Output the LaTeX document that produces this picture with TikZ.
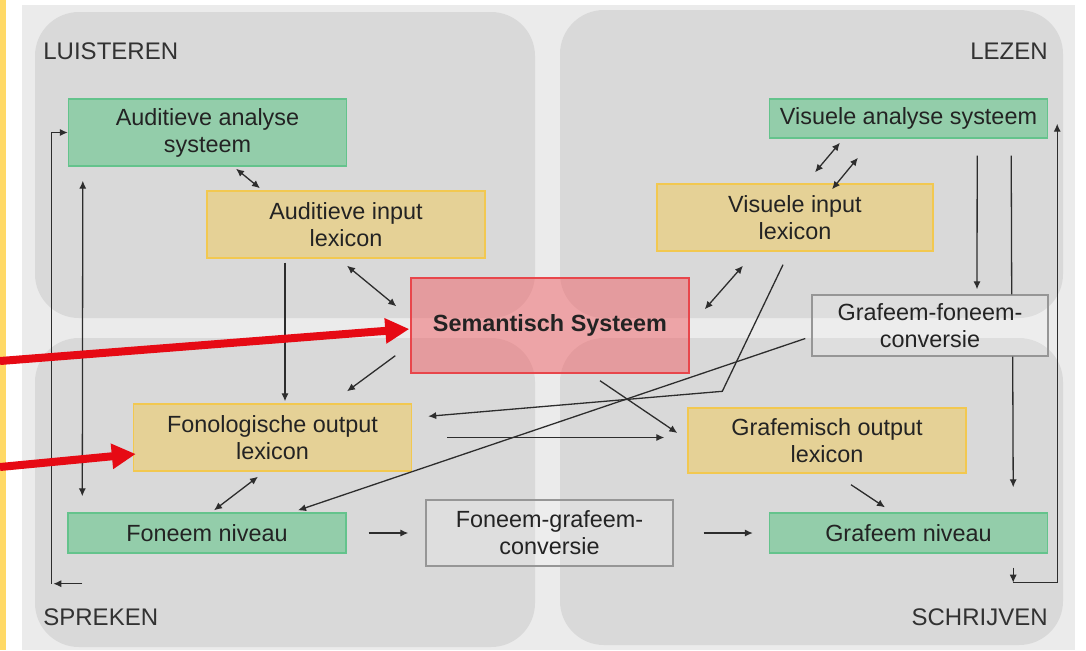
\documentclass[tikz,border=0pt]{standalone}
\usepackage{fontspec}
\setmainfont{Liberation Sans}
\definecolor{sidebar}{RGB}{255,217,102}
\definecolor{slidegray}{RGB}{235,235,235}
\definecolor{quadgray}{RGB}{217,217,217}
\definecolor{greenfill}{RGB}{147,205,170}
\definecolor{greenline}{RGB}{100,195,140}
\definecolor{yellowfill}{RGB}{229,209,150}
\definecolor{yellowline}{RGB}{242,200,80}
\definecolor{redfill}{RGB}{240,95,100}
\definecolor{redline}{RGB}{232,70,75}
\definecolor{convline}{RGB}{150,150,150}
\definecolor{linegray}{RGB}{45,45,45}
\definecolor{boxtext}{RGB}{35,35,35}
\definecolor{labeltext}{RGB}{50,50,50}
\definecolor{alertred}{RGB}{230,10,20}
\usetikzlibrary{arrows.meta, positioning, calc}

\begin{document}
\begin{tikzpicture}[
        x=0.5pt, y=-0.5pt,
        quad/.style={fill=quadgray, rounded corners=22pt},
        quadlabel/.style={font=\fontsize{12}{14}\selectfont, text=labeltext, inner sep=0pt},
        box/.style={rectangle, line width=0.7pt, minimum width=139pt, minimum height=33.5pt, align=center, inner sep=1pt, text=boxtext, font=\fontsize{11.7}{13.5}\selectfont},
        greenbox/.style={box, fill=greenfill, draw=greenline},
        yellowbox/.style={box, fill=yellowfill, draw=yellowline},
        semanticbox/.style={box, fill=redfill, fill opacity=0.5, text opacity=1, draw=redline, font=\fontsize{11.7}{13.5}\selectfont\bfseries},
        convbox/.style={box, fill=white, fill opacity=0.15, text opacity=1, draw=convline},
        arrow/.style={-{Latex[length=4pt,width=3.6pt]}, line width=0.65pt, draw=linegray},
        biarrow/.style={{Latex[length=4pt,width=3.6pt]}-{Latex[length=4pt,width=3.6pt]}, line width=0.65pt, draw=linegray},
        plainline/.style={line width=0.65pt, draw=linegray},
        redarrow/.style={-{Triangle[length=12pt,width=12pt]}, line width=4pt, draw=alertred}
    ]
        \useasboundingbox (0,0) rectangle (1086,650);
        % slide background and the four fields
        \fill[white] (0,0) rectangle (1086,650);
        \fill[sidebar] (0,0) rectangle (6,650);
        \fill[slidegray] (22,5) rectangle (1075,650);
        \fill[quad] (35,12) rectangle (535,318);
        \fill[quad] (560,10) rectangle (1063,318);
        \fill[quad] (35,338) rectangle (535,647);
        \fill[quad] (560,338) rectangle (1063,645);

        \node[quadlabel, anchor=west] (luisteren) at (43,51) {LUISTEREN};
        \node[quadlabel, anchor=east] (lezen) at (1048,51) {LEZEN};
        \node[quadlabel, anchor=west] (spreken) at (43,617) {SPREKEN};
        \node[quadlabel, anchor=east] (schrijven) at (1048,617) {SCHRIJVEN};

        % modules
        \node[greenbox] (aud) at (207.5,132.5) {Auditieve analyse\\systeem};
        \node[yellowbox] (audin) at (346,224.5) {Auditieve input\\lexicon};
        \node[semanticbox, minimum height=47.5pt] (sem) at (550,325.5) {Semantisch Systeem};
        \node[greenbox, minimum height=19.5pt] (vis) at (908.5,118.5) {Visuele analyse systeem};
        \node[yellowbox, minimum width=138pt] (visin) at (795,217.5) {Visuele input\\lexicon};
        \node[convbox, minimum width=118pt, minimum height=30.5pt] (gfc) at (930,325.5) {Grafeem-foneem-\\conversie};
        \node[yellowbox] (fonout) at (272.5,437.5) {Fonologische output\\lexicon};
        \node[yellowbox, minimum height=32.5pt] (grafout) at (827,440.5) {Grafemisch output\\lexicon};
        \node[greenbox, minimum height=20pt] (fon) at (207,533) {Foneem niveau};
        \node[convbox, minimum width=123.5pt, minimum height=33pt] (fgc) at (549.5,533) {Foneem-grafeem-\\conversie};
        \node[greenbox, minimum height=20pt] (graf) at (908.5,533) {Grafeem niveau};

        % loops at the sides
        \coordinate (lp1) at ($(fon.south west)+(15,30)$);
        \coordinate (lp2) at ($(fon.south west)+(-16,30)$);
        \coordinate (rp1) at ($(graf.south east)+(-35,14)$);
        \coordinate (rp2) at ($(graf.south east)+(-35,29)$);
        \draw[arrow] (lp1) -- ($(lp2)+(2,0)$);
        \draw[arrow] (lp2) |- (aud.west);
        \draw[arrow] (rp1) -- (rp2);
        \draw[arrow] (rp2) -| ($(vis.south east)+(9,-15)$);

        % connections
        \draw[biarrow] ($(aud.south west)+(15,14)$) -- ($(fon.north west)+(15,-16)$);
        \draw[biarrow] ($(aud.south)+(28.5,2)$) -- ($(audin.north)+(-86,-2)$);
        \draw[arrow] ($(audin.south)+(-61,4)$) -- ($(fonout.north)+(12.5,-2)$);
        \draw[biarrow] ($(audin.south)+(1,7)$) -- ($(sem.north west)+(-14,29)$);
        \draw[arrow] ($(sem.south west)+(-15,-18)$) -- ($(fonout.north)+(74.5,-12)$);
        \draw[biarrow] ($(vis.south)+(-68.5,4)$) -- ($(visin.north)+(20,-11)$);
        \draw[biarrow] ($(vis.south)+(-50.5,19)$) -- ($(visin.north)+(37,6)$);
        \draw[biarrow] ($(visin.south)+(-52,14)$) -- ($(sem.north east)+(15,32)$);
        \draw[arrow] ($(visin.south)+(-12,13)$) -- ($(grafout.north west)+(35,-16)$) -- ($(fonout.north east)+(16,13)$);
        \draw[arrow] ($(gfc.west)+(-6,13)$) -- ($(fon.north)+(91,-2)$);
        \draw[arrow] ($(sem.south)+(50,7)$) -- ($(grafout.west)+(-10,-7.5)$);
        \draw[arrow] ($(fonout.east)+(35,0)$) -- ($(grafout.west)+(-23,-3)$);
        \draw[biarrow] ($(fonout.south)+(-14.5,5)$) -- ($(fon.north)+(7,-2)$);
        \draw[arrow] ($(fon.east)+(22,0)$) -- ($(fgc.west)+(-17,0)$);
        \draw[arrow] ($(fgc.east)+(30,0)$) -- ($(graf.west)+(-16,0)$);
        \draw[arrow] ($(grafout.south)+(24,11)$) -- ($(graf.north)+(-23.5,-5)$);
        \draw[arrow] ($(vis.south east)+(-71,17)$) -- ($(gfc.north)+(47,-5)$);
        \draw[plainline] ($(vis.south east)+(-37,17)$) -- ($(gfc.north east)+(-37,0)$);
        \draw[arrow] ($(gfc.south east)+(-36,0)$) -- ($(graf.north east)+(-35,-25)$);

        % pointers from the slide edge
        \coordinate (redA) at (0,361);
        \coordinate (redB) at (0,467);
        \draw[redarrow] (redA) -- ($(sem.west)+(-1,3.5)$);
        \draw[redarrow] (redB) -- ($(fonout.west)+(3,16.5)$);
    \end{tikzpicture}
\end{document}
